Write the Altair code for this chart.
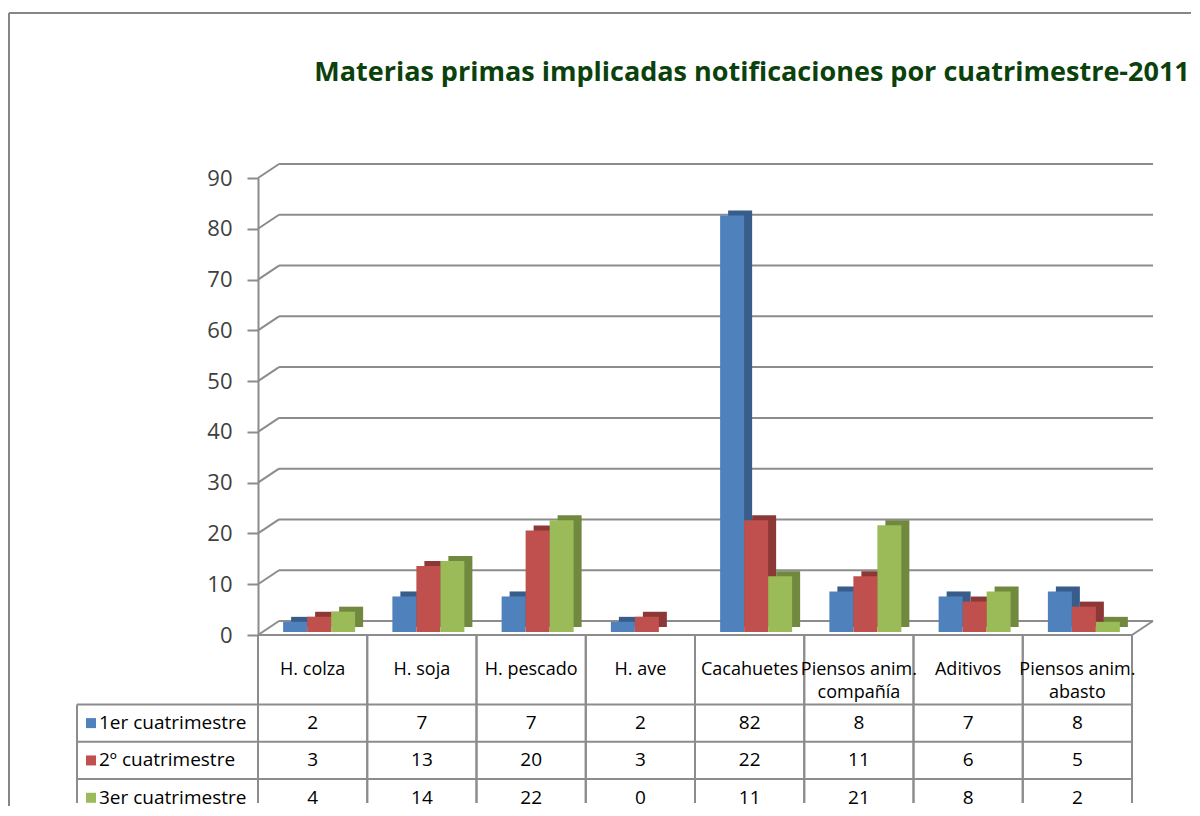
import altair as alt
import pandas as pd

# ---------------- data ----------------
CATEGORIES = ["H. colza", "H. soja", "H. pescado", "H. ave", "Cacahuetes",
              "Piensos anim. compañía", "Aditivos", "Piensos anim. abasto"]
HEADER_LABELS = ["H. colza", "H. soja", "H. pescado", "H. ave", "Cacahuetes",
                 "Piensos anim.\ncompañía", "Aditivos", "Piensos anim.\nabasto"]
SERIES = ["1er cuatrimestre", "2º cuatrimestre", "3er cuatrimestre"]
Q1 = [2, 7, 7, 2, 82, 8, 7, 8]
Q2 = [3, 13, 20, 3, 22, 11, 6, 5]
Q3 = [4, 14, 22, 0, 11, 21, 8, 2]
Y_TICKS = [0, 10, 20, 30, 40, 50, 60, 70, 80, 90]
TITLE = "Materias primas implicadas notificaciones por cuatrimestre-2011"

# ---------------- style ----------------
FRONT = ["#4F81BD", "#C0504D", "#9BBB59"]
SIDE = ["#385D8A", "#8C3836", "#71893F"]
GRID_C = "#8C8C8C"
BORDER_C = "#868686"
TITLE_C = "#0B420B"
TEXT_FONT = "Open Sans"
TABLE_FS = 19
HEADER_FS = 18

W, H = 874, 457          # plot area of the bar chart
TW, TH = 874, 168        # data-table panel
DX, DY = 21, -14         # 3-D depth of the back wall
BAR_W = 24
GROUP_SHIFT = 6.5
SIDE_DX, SIDE_DY = 8, -5
BAR_LIFT = -3

# table layout (in row units, 1 unit = one data row)
HEADER_H = 1.86
ROW_TOPS = [1.86, 2.86, 3.86]
TABLE_MAX = 4.5
LEG_X = -181

values = [Q1, Q2, Q3]
rows = []
for s, vals in zip(SERIES, values):
    for c, v in zip(CATEGORIES, vals):
        rows.append({"cat": c, "series": s, "value": v})
df = pd.DataFrame(rows)

xscale = alt.Scale(domain=CATEGORIES, paddingInner=0, paddingOuter=0)
yscale = alt.Scale(domain=[0, 90], nice=False, zero=True)
y_axis = alt.Axis(values=Y_TICKS, grid=False, domainColor=GRID_C, domainWidth=2,
                  tickColor=GRID_C, tickWidth=2, tickSize=11, labelFont=TEXT_FONT,
                  labelFontSize=22, labelColor="#404040", labelPadding=15, title=None)

grid_df = pd.DataFrame({"v": Y_TICKS})
one = pd.DataFrame({"v": [0]})

back_grid = alt.Chart(grid_df).mark_rule(color=GRID_C, strokeWidth=2, yOffset=DY).encode(
    y=alt.Y("v:Q", scale=yscale, axis=y_axis),
    x=alt.value(DX), x2=alt.value(W + DX))
diag_grid = alt.Chart(grid_df).mark_rule(color=GRID_C, strokeWidth=2, y2Offset=DY).encode(
    y=alt.Y("v:Q", scale=yscale, axis=y_axis), y2=alt.Y2("v:Q"),
    x=alt.value(0), x2=alt.value(DX))
floor_right = alt.Chart(one).mark_rule(color=GRID_C, strokeWidth=2, y2Offset=DY).encode(
    y=alt.Y("v:Q", scale=yscale, axis=y_axis), y2=alt.Y2("v:Q"),
    x=alt.value(W), x2=alt.value(W + DX))

bar_layers = []
for i, s in enumerate(SERIES):
    off = GROUP_SHIFT + (i - 1) * BAR_W
    bar_layers.append(
        alt.Chart(df).transform_filter(alt.datum.series == s).mark_bar(
            width=BAR_W, xOffset=off + SIDE_DX, yOffset=BAR_LIFT + SIDE_DY,
            y2Offset=BAR_LIFT + SIDE_DY, color=SIDE[i]).encode(
            x=alt.X("cat:N", scale=xscale, axis=None),
            y=alt.Y("value:Q", scale=yscale, axis=y_axis)))
for i, s in enumerate(SERIES):
    off = GROUP_SHIFT + (i - 1) * BAR_W
    bar_layers.append(
        alt.Chart(df).transform_filter(alt.datum.series == s).mark_bar(
            width=BAR_W, xOffset=off, yOffset=BAR_LIFT, y2Offset=BAR_LIFT,
            color=FRONT[i]).encode(
            x=alt.X("cat:N", scale=xscale, axis=None),
            y=alt.Y("value:Q", scale=yscale, axis=y_axis)))

title = alt.Chart(one).mark_text(
    text=TITLE, font=TEXT_FONT, fontSize=27, fontWeight="bold", color=TITLE_C,
    align="center", baseline="alphabetic").encode(x=alt.value(494), y=alt.value(-97))

border_left = alt.Chart(one).mark_rule(color=BORDER_C, strokeWidth=2).encode(
    x=alt.value(-249), y=alt.value(-165), y2=alt.value(628))
border_top = alt.Chart(one).mark_rule(color=BORDER_C, strokeWidth=2).encode(
    y=alt.value(-165), x=alt.value(-249), x2=alt.value(933))

no_frame = alt.ViewBackground(stroke="transparent", strokeWidth=0)

bars = alt.layer(back_grid, diag_grid, floor_right, *bar_layers, title,
                 border_left, border_top).properties(width=W, height=H, view=no_frame)

# ---------------- data table ----------------
tyscale = alt.Scale(domain=[0, TABLE_MAX], reverse=True, nice=False, zero=False)
txscale = alt.Scale(domain=CATEGORIES, paddingInner=0, paddingOuter=0)

cells = []
for s, top, vals in zip(SERIES, ROW_TOPS, values):
    for c, v in zip(CATEGORIES, vals):
        cells.append({"cat": c, "series": s, "value": str(v), "ymid": top + 0.5})
cells_df = pd.DataFrame(cells)
series_df = pd.DataFrame({"series": SERIES, "top": ROW_TOPS,
                          "ymid": [t + 0.5 for t in ROW_TOPS]})
header_df = pd.DataFrame({"cat": CATEGORIES, "label": HEADER_LABELS, "y0": 0})
hlines_df = pd.DataFrame({"y": [0]})
cat_df = pd.DataFrame({"cat": CATEGORIES})

vrule_l = alt.Chart(cat_df).mark_rule(color=GRID_C, strokeWidth=2).encode(
    x=alt.X("cat:N", scale=txscale, axis=None, bandPosition=0),
    y=alt.value(0), y2=alt.value(TH))
vrule_r = alt.Chart(cat_df).mark_rule(color=GRID_C, strokeWidth=2).encode(
    x=alt.X("cat:N", scale=txscale, axis=None, bandPosition=1),
    y=alt.value(0), y2=alt.value(TH))
hrule_header = alt.Chart(hlines_df).mark_rule(color=GRID_C, strokeWidth=2).encode(
    y=alt.Y("y:Q", scale=tyscale, axis=None), x=alt.value(0), x2=alt.value(TW))
hrule_rows = alt.Chart(series_df).mark_rule(color=GRID_C, strokeWidth=2).encode(
    y=alt.Y("top:Q", scale=tyscale, axis=None), x=alt.value(LEG_X), x2=alt.value(TW))
leg_left = alt.Chart(one).mark_rule(color=GRID_C, strokeWidth=2).encode(
    x=alt.value(LEG_X), y=alt.Y("v:Q", scale=tyscale, axis=None),
    y2=alt.value(TH)).transform_calculate(v=str(HEADER_H))

header_text = alt.Chart(header_df).mark_text(
    font=TEXT_FONT, fontSize=HEADER_FS, color="#000000", lineBreak="\n", lineHeight=23,
    baseline="top", dy=26).encode(
    x=alt.X("cat:N", scale=txscale, axis=None),
    y=alt.Y("y0:Q", scale=tyscale, axis=None), text="label:N")
value_text = alt.Chart(cells_df).mark_text(
    font=TEXT_FONT, fontSize=TABLE_FS, color="#000000", baseline="middle").encode(
    x=alt.X("cat:N", scale=txscale, axis=None),
    y=alt.Y("ymid:Q", scale=tyscale, axis=None), text="value:N")
leg_sq = alt.Chart(series_df).mark_square(size=100, opacity=1).encode(
    x=alt.value(LEG_X + 14),
    y=alt.Y("ymid:Q", scale=tyscale, axis=None),
    color=alt.Color("series:N", scale=alt.Scale(domain=SERIES, range=FRONT), legend=None))
leg_text = alt.Chart(series_df).mark_text(
    font=TEXT_FONT, fontSize=TABLE_FS, color="#000000", align="left", baseline="middle").encode(
    x=alt.value(LEG_X + 22),
    y=alt.Y("ymid:Q", scale=tyscale, axis=None), text="series:N")

table = alt.layer(vrule_l, vrule_r, hrule_header, hrule_rows, leg_left,
                  header_text, value_text, leg_sq, leg_text).properties(
    width=TW, height=TH, view=no_frame)

chart = alt.vconcat(bars, table, spacing=0, bounds="flush").resolve_scale(
    x="independent", y="independent", color="independent"
).properties(
    padding={"left": 0, "top": 4, "right": 0, "bottom": 3}
).configure_view(stroke="transparent", strokeWidth=0).configure(background="white")

chart.save("out.html", embed_options={"renderer": "svg", "actions": False})
